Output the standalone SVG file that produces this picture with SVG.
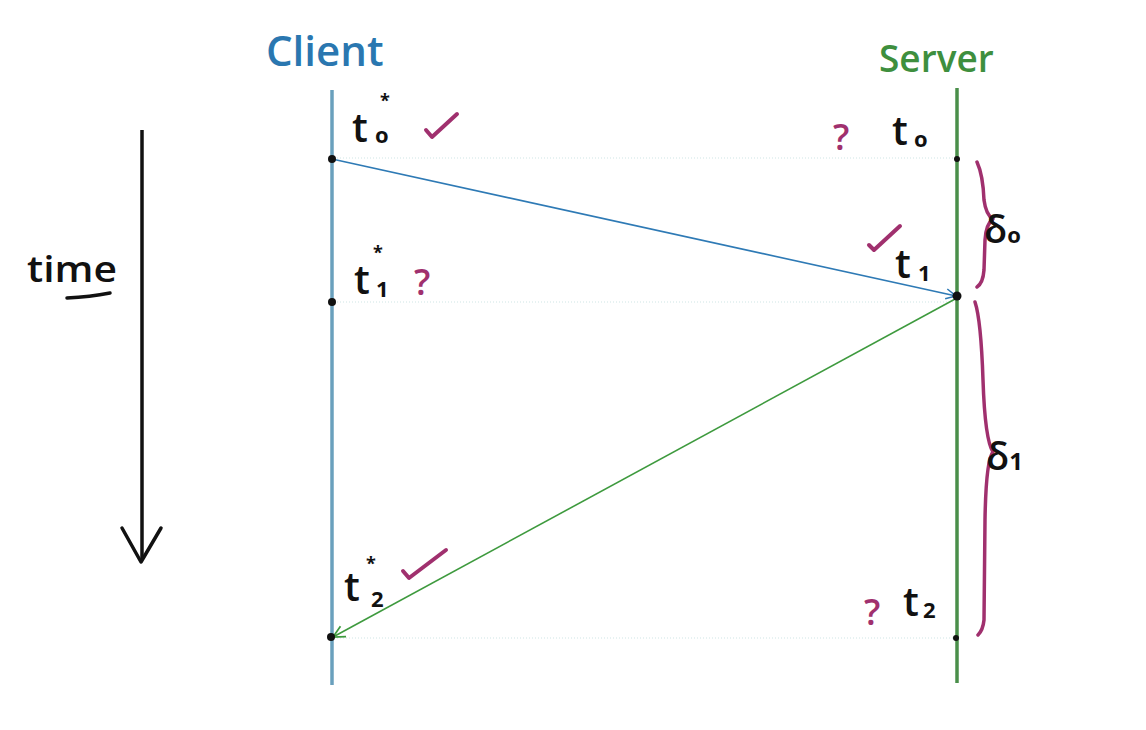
<svg xmlns="http://www.w3.org/2000/svg" width="1146" height="730" viewBox="0 0 1146 730">
<style>
.lbl{font-family:"Open Sans","DejaVu Sans",sans-serif;fill:#111;font-weight:600;}
.t{font-size:40px;}
.sub{font-size:22px;font-weight:bold;}
.star{font-size:18px;font-weight:bold;}
.q{font-family:"Open Sans","DejaVu Sans",sans-serif;fill:#a0306e;font-size:36px;font-weight:600;}
.chk{fill:none;stroke:#a0306e;stroke-width:4;stroke-linecap:round;stroke-linejoin:round;}
.brace{fill:none;stroke:#a0306e;stroke-width:3.5;stroke-linecap:round;stroke-linejoin:round;}
.dot{fill:#111;}
.guide{stroke:#cfe6e6;stroke-width:1.2;stroke-dasharray:1 2;}
</style>
<defs>
<marker id="ab" viewBox="0 0 12 12" refX="11" refY="6" markerWidth="12" markerHeight="12" markerUnits="userSpaceOnUse" orient="auto"><path d="M1,1 L11,6 L1,11" fill="none" stroke="#2e7ab5" stroke-width="1.5"/></marker>
<marker id="ag" viewBox="0 0 12 12" refX="11" refY="6" markerWidth="14" markerHeight="14" markerUnits="userSpaceOnUse" orient="auto"><path d="M1,1 L11,6 L1,11" fill="none" stroke="#3e9a3e" stroke-width="1.5"/></marker>
</defs>
<rect width="1146" height="730" fill="#fff"/>
<g id="client">
<text x="266" y="66" font-family="Open Sans, DejaVu Sans, sans-serif" font-size="42" font-weight="600" fill="#2a77b0">Client</text>
<line x1="332" y1="90" x2="332" y2="685" stroke="#6aa0bd" stroke-width="3.5"/>
</g>
<g id="server">
<text x="879" y="72" font-family="Open Sans, DejaVu Sans, sans-serif" font-size="37" font-weight="600" fill="#3e8f3e">Server</text>
<line x1="957" y1="88" x2="957" y2="683" stroke="#4a8f4a" stroke-width="3.5"/>
</g>
<g id="time">
<text x="27" y="282" font-family="Open Sans, DejaVu Sans, sans-serif" font-size="36" font-weight="600" fill="#111" textLength="90" lengthAdjust="spacingAndGlyphs">time</text>
<path d="M67,298 Q90,297 110,293" fill="none" stroke="#111" stroke-width="3.5" stroke-linecap="round"/>
<line x1="142" y1="130" x2="142" y2="560" stroke="#111" stroke-width="3.5"/>
<path d="M122,528 L141,562 L161,528" fill="none" stroke="#111" stroke-width="3.5" stroke-linejoin="round" stroke-linecap="round"/>
</g>
<g id="connectors">
<line class="guide" x1="334" y1="158" x2="955" y2="158"/>
<line class="guide" x1="334" y1="302" x2="955" y2="302"/>
<line class="guide" x1="334" y1="638" x2="955" y2="638"/>
<line x1="332" y1="159" x2="956" y2="296" stroke="#2e7ab5" stroke-width="1.6" marker-end="url(#ab)"/>
<line x1="957" y1="298" x2="333" y2="637" stroke="#3e9a3e" stroke-width="1.6" marker-end="url(#ag)"/>
</g>
<g id="points">
<circle class="dot" cx="332" cy="159" r="4"/>
<circle class="dot" cx="332" cy="302" r="4"/>
<circle class="dot" cx="331" cy="637" r="4"/>
<circle class="dot" cx="957" cy="159" r="3"/>
<circle class="dot" cx="957" cy="296" r="4.5"/>
<circle class="dot" cx="956" cy="638" r="3"/>
</g>
<g id="label-t0-client">
<text class="lbl t" x="352" y="142">t</text>
<text class="lbl star" x="380" y="107">*</text>
<text class="lbl sub" x="375" y="143">o</text>
<path class="chk" d="M426,130 L432,137 L457,114"/>
</g>
<g id="label-t1-client">
<text class="lbl t" x="354" y="294">t</text>
<text class="lbl star" x="373" y="259">*</text>
<text class="lbl sub" x="376" y="297">1</text>
<text class="q" x="414" y="295">?</text>
</g>
<g id="label-t2-client">
<text class="lbl t" x="344" y="601">t</text>
<text class="lbl star" x="366" y="570">*</text>
<text class="lbl sub" x="371" y="607">2</text>
<path class="chk" d="M403,571 L409,578 L446,550"/>
</g>
<g id="label-t0-server">
<text class="q" x="833" y="150">?</text>
<text class="lbl t" x="892" y="145">t</text>
<text class="lbl sub" x="914" y="147">o</text>
</g>
<g id="label-t1-server">
<path class="chk" d="M869,245 L874,250 L900,226"/>
<text class="lbl t" x="895" y="278">t</text>
<text class="lbl sub" x="918" y="281">1</text>
</g>
<g id="label-t2-server">
<text class="q" x="864" y="625">?</text>
<text class="lbl t" x="903" y="616">t</text>
<text class="lbl sub" x="923" y="618">2</text>
</g>
<g id="delta0">
<path class="brace" d="M977,162 Q983,175 984,200 Q986,215 993,219 Q986,224 985,240 L984,270 Q983,283 977,287"/>
<text class="lbl" x="984" y="243" font-size="38">δ<tspan font-size="22" font-weight="bold">o</tspan></text>
</g>
<g id="delta1">
<path class="brace" d="M975,302 Q981,320 983,380 Q985,440 993,452 Q986,460 985,520 L984,620 Q983,630 978,635"/>
<text class="lbl" x="986" y="470" font-size="38">δ<tspan font-size="24" font-weight="bold">1</tspan></text>
</g>
</svg>
